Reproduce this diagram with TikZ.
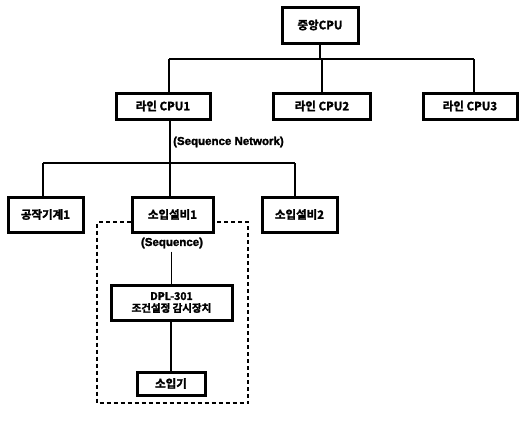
\documentclass[tikz,border=0pt]{standalone}
\usepackage{fontspec}
\newfontfamily\kr{Noto Sans CJK KR}[BoldFont={Noto Sans CJK KR Bold},BoldFeatures={FakeBold=2}]
\setmainfont{Liberation Sans}[BoldFeatures={FakeBold=2}]
\begin{document}
\begin{tikzpicture}[x=1pt,y=-1pt,
  box/.style={draw,line width=3pt,inner sep=0pt,font=\kr\bfseries\fontsize{11.5}{13}\selectfont,align=center},
  conn/.style={line width=1.8pt},
  lbl/.style={font=\bfseries\fontsize{11.5}{13}\selectfont,inner sep=0pt}]
\useasboundingbox (0,0) rectangle (526,421);
\node[box,minimum width=76pt,minimum height=36pt] (central) at (320,25) {중앙CPU};
\node[box,minimum width=94pt,minimum height=26pt] (l1) at (163,106) {라인 CPU1};
\node[box,minimum width=97pt,minimum height=26pt] (l2) at (322,106) {라인 CPU2};
\node[box,minimum width=94pt,minimum height=26pt] (l3) at (470,106) {라인 CPU3};
\node[box,minimum width=75pt,minimum height=35pt] (m1) at (45.5,214.5) {공작기계1};
\node[box,minimum width=81pt,minimum height=35pt] (s1) at (172.5,214.5) {소입설비1};
\node[box,minimum width=75pt,minimum height=35pt] (s2) at (299.5,214.5) {소입설비2};
\node[box,minimum width=121pt,minimum height=35pt,font=\kr\bfseries\fontsize{10.5}{12}\selectfont] (dpl) at (171.5,302.5) {DPL-301\\조건설정 감시장치};
\node[box,minimum width=68pt,minimum height=23pt] (q) at (171,383.5) {소입기};
\node[lbl,anchor=west] (sn) at (173,142) {(Sequence Network)};
\node[lbl] (sq) at (172,243) {(Sequence)};
% top bus
\coordinate (b1) at (169,59);
\coordinate (b3) at (474,59);
\draw[conn] (central.south) -- (central.south |- b1);
\draw[conn] (b1) -- (b3);
\draw[conn] (b1) -- (b1 |- l1.north);
\draw[conn] (l2.north |- b1) -- (l2.north);
\draw[conn] (b3) -- (b3 |- l3.north);
% second bus
\coordinate (c0) at (170,163);
\coordinate (c1) at (43,163);
\coordinate (c3) at (295,163);
\draw[conn] (l1.south -| c0) -- (c0 |- s1.north);
\draw[conn] (c1) -- (c3);
\draw[conn] (c1) -- (c1 |- m1.north);
\draw[conn] (c3) -- (c3 |- s2.north);
% sequence
\draw[conn] (sq.south -| dpl.north) ++(0,3) -- (dpl.north);
\draw[conn] (dpl.south -| q.north) -- (q.north);
% dashed enclosure
\coordinate (dl) at (97,222);
\coordinate (dr) at (248,403);
\draw[line width=1.6pt,dash pattern=on 4pt off 3pt] (s1.west |- dl) -- (dl) -- (dl |- dr) -- (dr) -- (dr |- dl) -- (s1.east |- dl);
\end{tikzpicture}
\end{document}
